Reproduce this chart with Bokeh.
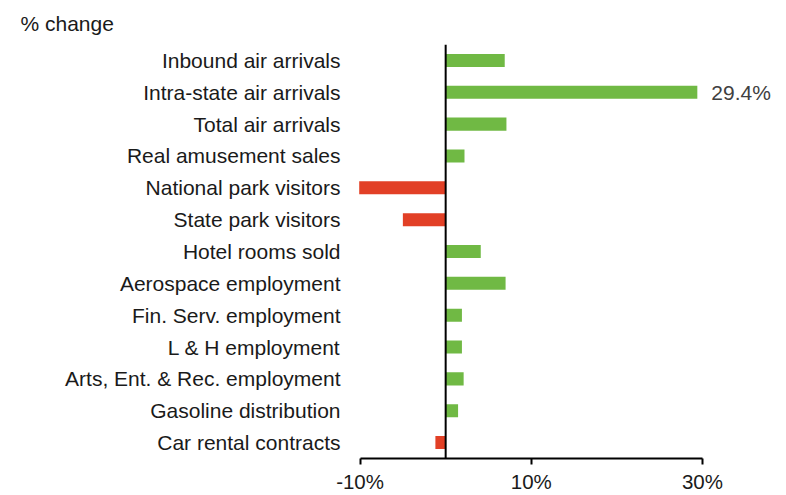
from bokeh.plotting import figure
from bokeh.models import FactorRange, Range1d, Span, FixedTicker, Title, ColumnDataSource
from bokeh.core.properties import value
from bokeh.embed import file_html
from bokeh.resources import INLINE

categories = [
    "Inbound air arrivals",
    "Intra-state air arrivals",
    "Total air arrivals",
    "Real amusement sales",
    "National park visitors",
    "State park visitors",
    "Hotel rooms sold",
    "Aerospace employment",
    "Fin. Serv. employment",
    "L & H employment",
    "Arts, Ent. & Rec. employment",
    "Gasoline distribution",
    "Car rental contracts",
]
pct_change = [6.9, 29.4, 7.1, 2.2, -10.1, -5.0, 4.1, 7.0, 1.9, 1.9, 2.1, 1.45, -1.2]
tick_values = [-10, 10, 30]
tick_labels = {-10: "-10%", 10: "10%", 30: "30%"}
callout_index = 1
callout_text = "29.4%"
unit_label = "% change"

GREEN = "#70B944"
RED = "#E24026"
FONT = "Liberation Sans"
TXT = "#1a1a1a"

colors = [GREEN if v >= 0 else RED for v in pct_change]
src = ColumnDataSource(dict(cat=categories, val=pct_change, color=colors))

p = figure(
    y_range=FactorRange(*reversed(categories), range_padding=0),
    x_range=Range1d(-10.3, 39.0),
    width=786, height=495,
    output_backend="svg", toolbar_location=None,
    min_border_left=357, min_border_right=7, min_border_top=44, min_border_bottom=35,
)
p.outline_line_color = None
p.background_fill_color = "white"
p.border_fill_color = "white"
p.xgrid.visible = False
p.ygrid.visible = False

p.hbar(y="cat", right="val", left=0, height=0.41, color="color", line_color=None, source=src)

p.add_layout(Span(location=0, dimension="height", line_color="black", line_width=2))

p.text(x=[pct_change[callout_index]], y=[categories[callout_index]], text=[callout_text],
       x_offset=14, text_baseline="middle", text_align="left",
       text_font=value(FONT), text_font_size="21px", text_color="#404040")

xa = p.xaxis[0]
xa.ticker = FixedTicker(ticks=tick_values)
xa.major_label_overrides = tick_labels
xa.bounds = (-10, 30)
xa.axis_line_width = 2
xa.axis_line_color = "black"
xa.major_tick_line_width = 2
xa.major_tick_line_color = "black"
xa.major_tick_in = 0
xa.major_tick_out = 6
xa.minor_tick_line_color = None
xa.major_label_standoff = 5
xa.major_label_text_font = FONT
xa.major_label_text_font_size = "20.5px"
xa.major_label_text_color = TXT

ya = p.yaxis[0]
ya.axis_line_color = None
ya.major_tick_line_color = None
ya.minor_tick_line_color = None
ya.major_tick_out = 0
ya.major_tick_in = 0
ya.major_label_standoff = 17
ya.major_label_text_font = FONT
ya.major_label_text_font_size = "21px"
ya.major_label_text_color = TXT

t = Title(text=unit_label, align="left", offset=-337, vertical_align="top",
          text_font=FONT, text_font_size="21px", text_font_style="normal",
          text_color=TXT, standoff=16)
p.add_layout(t, "above")

open("out.html", "w").write(file_html(p, INLINE))
